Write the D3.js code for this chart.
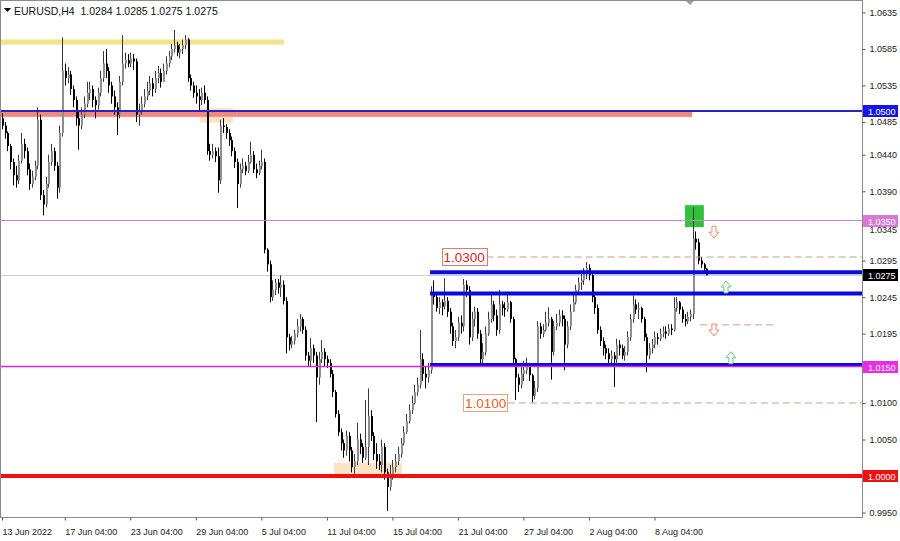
<!DOCTYPE html>
<html><head><meta charset="utf-8">
<script src="https://cdn.jsdelivr.net/npm/d3@7"></script>
<style>
body{margin:0;background:#fff;}
svg{display:block;font-family:"Liberation Sans",Arial,sans-serif;}
</style>
</head><body>
<svg id="c" width="900" height="541"></svg>
<script>
// ---------------- DATA ----------------
const symbolTitle = "EURUSD,H4";
const lastOHLC = ["1.0284", "1.0285", "1.0275", "1.0275"];
const firstOpen = 1.0490;

const closes = [
 1.0480,1.0470,1.0452,1.0430,1.0412,1.0405,1.0432,1.0455,1.0445,1.0420,
 1.0400,1.0410,1.0425,1.0488,1.0385,1.0372,1.0400,1.0430,1.0445,1.0425,
 1.0395,1.0470,1.0555,1.0545,1.0550,1.0530,1.0515,1.0490,1.0480,1.0495,
 1.0510,1.0525,1.0530,1.0515,1.0508,1.0525,1.0545,1.0565,1.0555,1.0535,
 1.0520,1.0505,1.0495,1.0540,1.0565,1.0570,1.0565,1.0572,1.0568,1.0495,
 1.0500,1.0510,1.0520,1.0528,1.0538,1.0530,1.0545,1.0552,1.0540,1.0555,
 1.0565,1.0575,1.0585,1.0590,1.0580,1.0585,1.0590,1.0598,1.0545,1.0535,
 1.0525,1.0520,1.0515,1.0525,1.0515,1.0445,1.0440,1.0445,1.0438,1.0405,
 1.0480,1.0478,1.0470,1.0460,1.0445,1.0430,1.0400,1.0420,1.0425,1.0418,
 1.0430,1.0440,1.0420,1.0415,1.0425,1.0430,1.0310,1.0290,1.0245,1.0255,
 1.0265,1.0258,1.0262,1.0240,1.0190,1.0180,1.0185,1.0195,1.0205,1.0215,
 1.0200,1.0165,1.0158,1.0175,1.0165,1.0135,1.0160,1.0170,1.0160,1.0155,
 1.0140,1.0115,1.0085,1.0060,1.0045,1.0035,1.0055,1.0035,1.0012,1.0020,
 1.0050,1.0040,1.0025,1.0040,1.0082,1.0055,1.0030,1.0020,1.0015,1.0040,
 1.0005,0.9985,1.0000,1.0012,1.0020,1.0030,1.0045,1.0060,1.0075,1.0090,
 1.0100,1.0115,1.0125,1.0160,1.0140,1.0135,1.0145,1.0250,1.0245,1.0230,
 1.0238,1.0232,1.0240,1.0225,1.0205,1.0185,1.0190,1.0210,1.0205,1.0262,
 1.0255,1.0190,1.0215,1.0225,1.0195,1.0160,1.0170,1.0195,1.0215,1.0235,
 1.0220,1.0200,1.0235,1.0230,1.0228,1.0238,1.0215,1.0160,1.0135,1.0125,
 1.0140,1.0145,1.0150,1.0138,1.0110,1.0120,1.0205,1.0195,1.0200,1.0210,
 1.0215,1.0170,1.0205,1.0210,1.0220,1.0215,1.0180,1.0205,1.0225,1.0238,
 1.0255,1.0265,1.0268,1.0278,1.0285,1.0275,1.0245,1.0230,1.0200,1.0185,
 1.0175,1.0168,1.0160,1.0165,1.0160,1.0180,1.0175,1.0165,1.0170,1.0190,
 1.0215,1.0235,1.0228,1.0230,1.0215,1.0190,1.0165,1.0175,1.0180,1.0190,
 1.0188,1.0195,1.0198,1.0195,1.0202,1.0200,1.0230,1.0238,1.0228,1.0215,
 1.0212,1.0218,1.0222,1.0325,1.0320,1.0295,1.0290,1.0284,1.0275];

const highs = [
 1.0497,1.0485,1.0472,1.0455,1.0435,1.0425,1.0440,1.0470,1.0462,1.0450,
 1.0428,1.0418,1.0432,1.0505,1.0495,1.0392,1.0410,1.0440,1.0455,1.0450,
 1.0430,1.0480,1.0601,1.0565,1.0560,1.0555,1.0535,1.0520,1.0500,1.0505,
 1.0520,1.0540,1.0540,1.0535,1.0520,1.0532,1.0555,1.0582,1.0585,1.0560,
 1.0540,1.0528,1.0512,1.0548,1.0604,1.0580,1.0578,1.0580,1.0578,1.0572,
 1.0510,1.0520,1.0530,1.0540,1.0548,1.0545,1.0555,1.0562,1.0558,1.0565,
 1.0575,1.0582,1.0592,1.0611,1.0595,1.0592,1.0598,1.0604,1.0600,1.0550,
 1.0540,1.0535,1.0530,1.0532,1.0535,1.0520,1.0455,1.0455,1.0450,1.0450,
 1.0488,1.0490,1.0482,1.0475,1.0465,1.0450,1.0435,1.0428,1.0435,1.0430,
 1.0440,1.0458,1.0445,1.0428,1.0432,1.0447,1.0435,1.0312,1.0295,1.0268,
 1.0270,1.0270,1.0275,1.0268,1.0245,1.0195,1.0192,1.0200,1.0215,1.0222,
 1.0218,1.0205,1.0170,1.0189,1.0180,1.0170,1.0170,1.0186,1.0175,1.0165,
 1.0160,1.0145,1.0118,1.0090,1.0065,1.0050,1.0062,1.0060,1.0040,1.0030,
 1.0073,1.0058,1.0045,1.0104,1.0120,1.0090,1.0060,1.0045,1.0030,1.0050,
 1.0045,1.0010,1.0015,1.0022,1.0030,1.0040,1.0052,1.0068,1.0085,1.0098,
 1.0110,1.0125,1.0135,1.0200,1.0168,1.0150,1.0155,1.0260,1.0268,1.0250,
 1.0245,1.0242,1.0271,1.0245,1.0230,1.0210,1.0200,1.0218,1.0220,1.0270,
 1.0268,1.0260,1.0225,1.0232,1.0230,1.0200,1.0182,1.0205,1.0225,1.0252,
 1.0240,1.0228,1.0255,1.0240,1.0238,1.0248,1.0240,1.0218,1.0162,1.0140,
 1.0150,1.0158,1.0162,1.0155,1.0140,1.0130,1.0212,1.0210,1.0208,1.0225,
 1.0231,1.0218,1.0212,1.0222,1.0228,1.0227,1.0220,1.0212,1.0235,1.0248,
 1.0262,1.0272,1.0278,1.0285,1.0293,1.0290,1.0280,1.0250,1.0235,1.0205,
 1.0190,1.0180,1.0175,1.0172,1.0170,1.0188,1.0186,1.0180,1.0178,1.0198,
 1.0222,1.0247,1.0242,1.0238,1.0232,1.0218,1.0195,1.0182,1.0188,1.0198,
 1.0196,1.0202,1.0205,1.0205,1.0208,1.0208,1.0245,1.0245,1.0240,1.0232,
 1.0222,1.0225,1.0228,1.0368,1.0335,1.0325,1.0300,1.0292,1.0285];

const lows = [
 1.0475,1.0462,1.0445,1.0420,1.0398,1.0395,1.0400,1.0428,1.0435,1.0412,
 1.0392,1.0395,1.0405,1.0420,1.0378,1.0357,1.0368,1.0395,1.0425,1.0418,
 1.0380,1.0388,1.0465,1.0535,1.0538,1.0522,1.0505,1.0480,1.0447,1.0475,
 1.0490,1.0505,1.0515,1.0505,1.0490,1.0502,1.0520,1.0540,1.0545,1.0525,
 1.0510,1.0495,1.0467,1.0490,1.0535,1.0558,1.0560,1.0560,1.0556,1.0485,
 1.0480,1.0495,1.0505,1.0515,1.0522,1.0520,1.0525,1.0538,1.0532,1.0540,
 1.0550,1.0560,1.0570,1.0580,1.0575,1.0572,1.0578,1.0585,1.0540,1.0528,
 1.0518,1.0510,1.0500,1.0508,1.0510,1.0440,1.0432,1.0435,1.0430,1.0388,
 1.0400,1.0470,1.0462,1.0452,1.0438,1.0422,1.0367,1.0395,1.0415,1.0412,
 1.0415,1.0428,1.0415,1.0408,1.0412,1.0420,1.0305,1.0280,1.0238,1.0240,
 1.0248,1.0250,1.0245,1.0235,1.0168,1.0172,1.0175,1.0180,1.0190,1.0198,
 1.0195,1.0158,1.0150,1.0150,1.0155,1.0074,1.0125,1.0155,1.0150,1.0148,
 1.0135,1.0108,1.0080,1.0055,1.0035,1.0025,1.0028,1.0020,1.0005,1.0003,
 1.0015,1.0030,1.0018,1.0022,1.0015,1.0048,1.0022,1.0010,1.0008,1.0005,
 0.9995,0.9952,0.9980,0.9995,1.0005,1.0015,1.0025,1.0042,1.0058,1.0072,
 1.0085,1.0098,1.0110,1.0120,1.0130,1.0120,1.0128,1.0140,1.0235,1.0225,
 1.0222,1.0220,1.0228,1.0218,1.0195,1.0178,1.0175,1.0185,1.0195,1.0198,
 1.0245,1.0180,1.0185,1.0205,1.0188,1.0150,1.0152,1.0165,1.0192,1.0210,
 1.0212,1.0192,1.0195,1.0220,1.0218,1.0225,1.0210,1.0155,1.0104,1.0115,
 1.0120,1.0130,1.0140,1.0130,1.0101,1.0105,1.0115,1.0188,1.0190,1.0198,
 1.0205,1.0132,1.0165,1.0200,1.0205,1.0205,1.0145,1.0175,1.0200,1.0225,
 1.0235,1.0250,1.0255,1.0262,1.0270,1.0268,1.0238,1.0222,1.0195,1.0178,
 1.0165,1.0160,1.0155,1.0152,1.0122,1.0155,1.0165,1.0160,1.0158,1.0165,
 1.0185,1.0210,1.0222,1.0215,1.0210,1.0185,1.0142,1.0160,1.0168,1.0175,
 1.0180,1.0185,1.0190,1.0188,1.0192,1.0193,1.0198,1.0225,1.0222,1.0210,
 1.0205,1.0208,1.0212,1.0215,1.0310,1.0290,1.0285,1.0280,1.0275];

const xTickBars   = [0, 23, 47, 71, 95, 119, 143, 167, 191, 215, 239];
const xTickLabels = ["13 Jun 2022","17 Jun 04:00","23 Jun 04:00","29 Jun 04:00","5 Jul 04:00",
                     "11 Jul 04:00","15 Jul 04:00","21 Jul 04:00","27 Jul 04:00","2 Aug 04:00","8 Aug 04:00"];
const yTickValues = [1.0635,1.0585,1.0535,1.0485,1.0440,1.0390,1.0345,1.0295,1.0245,1.0195,1.0150,1.0100,1.0050,1.0000,0.9950];

// levels (prices) and zones (price ranges + bar anchors)
const yellowZone   = {p0: 1.0591, p1: 1.0598, b0: -2, b1: 103.3};
const salmonZone   = {p0: 1.0492, p1: 1.0500, b0: -2, b1: 252.8};
const peachZones   = [{p0: 1.0484, p1: 1.0504, b0: 72.5, b1: 84.6},
                      {p0: 0.9999, p1: 1.0018, b0: 121.6, b1: 146.5}];
const greenZone    = {p0: 1.0341, p1: 1.0371, b0: 250.2, b1: 257.1};
const bidLevel     = 1.0275;
const blueLevel    = 1.0500;
const orchidLevel  = 1.0350;
const magentaLevel = 1.0150;
const redLevel     = 1.0000;
const rangeLevels  = [1.0279, 1.0250, 1.0152];
const rangeStartBar = 156.8;
const dashLevels   = [{p: 1.0300, label: "1.0300", b0: 161, b1: 177.5},
                      {p: 1.0100, label: "1.0100", b0: 169, b1: 185.3}];
const shortDash    = {p: 1.0207, b0: 255.7, b1: 283.2};
const arrows = [{dir: "down", b: 260.8, p: 1.0334},
                {dir: "up",   b: 265.2, p: 1.0259},
                {dir: "down", b: 260.8, p: 1.0200},
                {dir: "up",   b: 267.0, p: 1.0162}];
const priceTags = [{p: 1.0500, label: "1.0500", color: "#1414e6"},
                   {p: 1.0350, label: "1.0350", color: "#d77ad7"},
                   {p: 1.0275, label: "1.0275", color: "#000000"},
                   {p: 1.0150, label: "1.0150", color: "#e62ee6"},
                   {p: 1.0000, label: "1.0000", color: "#f01010"}];

// ---------------- CHART ----------------
const plotL = 0, plotR = 862, plotT = 0, plotB = 517;
const svg = d3.select("#c");

const x = d3.scaleLinear().domain([0, 258]).range([2, 2 + 258 * 2.73]);
const y = d3.scaleLinear().domain([1.0, 1.05]).range([476, 111]);

const opens = closes.map((c, i) => i === 0 ? firstOpen : closes[i - 1]);
const bars = closes.map((c, i) => ({i, o: opens[i], c, h: highs[i], l: lows[i]}));

svg.append("clipPath").attr("id", "plotclip")
  .append("rect").attr("x", plotL).attr("y", plotT).attr("width", plotR - plotL).attr("height", plotB - plotT);
const g = svg.append("g").attr("clip-path", "url(#plotclip)");

function zoneRect(z, fill) {
  g.append("rect")
    .attr("x", x(z.b0)).attr("width", x(z.b1) - x(z.b0))
    .attr("y", y(z.p1)).attr("height", y(z.p0) - y(z.p1))
    .attr("fill", fill);
}
zoneRect(yellowZone, "#f2e48c");
peachZones.forEach(z => zoneRect(z, "#fbe3c6"));
zoneRect(salmonZone, "#f2877a");
zoneRect(greenZone, "#2fc23a");

// bid line (light gray)
g.append("line").attr("x1", plotL).attr("x2", plotR)
  .attr("y1", Math.round(y(bidLevel)) + 0.5).attr("y2", Math.round(y(bidLevel)) + 0.5)
  .attr("stroke", "#cfcfcf").attr("stroke-width", 1);

// candles
const cg = g.append("g");
bars.forEach(b => {
  const up = b.c >= b.o;
  const xc = Math.round(x(b.i));
  const hi = Math.max(b.h, b.o, b.c), lo = Math.min(b.l, b.o, b.c);
  cg.append("rect").attr("x", xc).attr("width", 1)
    .attr("y", y(hi)).attr("height", Math.max(1, y(lo) - y(hi)))
    .attr("fill", up ? "#3a3a3a" : "#000");
  const top = y(Math.max(b.o, b.c)), bot = y(Math.min(b.o, b.c));
  cg.append("rect").attr("x", xc).attr("width", 2)
    .attr("y", top).attr("height", Math.max(1, bot - top))
    .attr("fill", up ? "#8e8e8e" : "#000");
});

// horizontal levels
function hline(p, x1, x2, color, w, dash) {
  const l = g.append("line").attr("x1", x1).attr("x2", x2)
    .attr("y1", y(p)).attr("y2", y(p))
    .attr("stroke", color).attr("stroke-width", w);
  if (dash) l.attr("stroke-dasharray", dash);
  return l;
}
hline(orchidLevel, plotL, plotR, "#d27ed2", 1.2);
hline(blueLevel, plotL, plotR, "#2a22c8", 2);
rangeLevels.forEach(p => hline(p, x(rangeStartBar), plotR, "#0a0adc", 4));
hline(magentaLevel, plotL, plotR, "#e020e0", 1.6);
hline(redLevel, plotL, plotR, "#f01010", 4);

dashLevels.forEach(d => hline(d.p, x(d.b1), plotR, "#d39a98", 1, "7,4"));
hline(shortDash.p, x(shortDash.b0), x(shortDash.b1), "#d39a98", 1, "7,4");

// dashed-level label boxes
const labelColors = ["#d42424", "#e2622a"];
dashLevels.forEach((d, k) => {
  const x0 = x(d.b0), x1 = x(d.b1), yc = y(d.p);
  g.append("rect").attr("x", Math.round(x0) + 0.5).attr("y", Math.round(yc - 9) + 0.5)
    .attr("width", Math.round(x1 - x0)).attr("height", 17)
    .attr("fill", "#fff").attr("stroke", k === 0 ? "#e07a70" : "#f0a080").attr("stroke-width", 1);
  g.append("text").attr("x", (x0 + x1) / 2).attr("y", yc + 5)
    .attr("text-anchor", "middle").attr("font-size", "13.5px")
    .attr("fill", labelColors[k]).text(d.label);
});

// hollow arrows
arrows.forEach(a => {
  const cx = x(a.b), cy = y(a.p), s = a.dir === "down" ? 1 : -1;
  const pts = [[-2, -6], [2, -6], [2, 0], [5, 0], [0, 6], [-5, 0], [-2, 0]]
    .map(([px, py]) => [cx + px, cy + s * py]);
  g.append("path").attr("d", d3.line()(pts) + "Z")
    .attr("fill", "#fff")
    .attr("stroke", a.dir === "down" ? "#ee8a68" : "#6cc86c").attr("stroke-width", 1);
});

// top marker
svg.append("path").attr("d", "M686,1L694,1L690,5Z").attr("fill", "#a0a0a0");

// frame
svg.append("rect").attr("x", 0.5).attr("y", 0.5).attr("width", plotR).attr("height", plotB)
  .attr("fill", "none").attr("stroke", "#8a8a8a").attr("stroke-width", 1);

// right axis
const ya = svg.append("g").attr("transform", `translate(${plotR + 0.5},0)`)
  .call(d3.axisRight(y).tickValues(yTickValues).tickSize(3).tickFormat(d3.format(".4f")));
ya.select(".domain").remove();
ya.selectAll("line").attr("stroke", "#555");
ya.selectAll("text").attr("x", 7).attr("font-size", "9px").attr("fill", "#222")
  .attr("font-family", "Liberation Sans, Arial, sans-serif");
// the tick label just under the 1.0350 tag peeks out below it, as in the reference
ya.selectAll(".tick").filter(d => Math.abs(d - 1.0345) < 1e-6).select("text").attr("dy", "0.95em");

// price tags on axis
priceTags.forEach(t => {
  const yc = y(t.p);
  svg.append("rect").attr("x", plotR + 1).attr("y", Math.round(yc) - 6)
    .attr("width", 35).attr("height", 12).attr("fill", t.color);
  svg.append("text").attr("x", plotR + 6).attr("y", Math.round(yc) + 3.5)
    .attr("font-size", "9px").attr("fill", "#fff").text(t.label);
});

// bottom axis
const xa = svg.append("g").attr("transform", `translate(0,${plotB + 0.5})`)
  .call(d3.axisBottom(x).tickValues(xTickBars).tickSize(3).tickFormat((d, i) => xTickLabels[i]));
xa.select(".domain").remove();
xa.selectAll("line").attr("stroke", "#555");
xa.selectAll("text").attr("text-anchor", "start").attr("x", 0).attr("y", 11)
  .attr("font-size", "9px").attr("fill", "#222")
  .attr("font-family", "Liberation Sans, Arial, sans-serif");

// title
svg.append("path").attr("d", "M4,8L11,8L7.5,12Z").attr("fill", "#000");
svg.append("text").attr("x", 14).attr("y", 14.5).attr("font-size", "10.5px").attr("fill", "#111")
  .attr("xml:space", "preserve")
  .text(symbolTitle + "  " + lastOHLC.join(" "));
</script>
</body></html>
